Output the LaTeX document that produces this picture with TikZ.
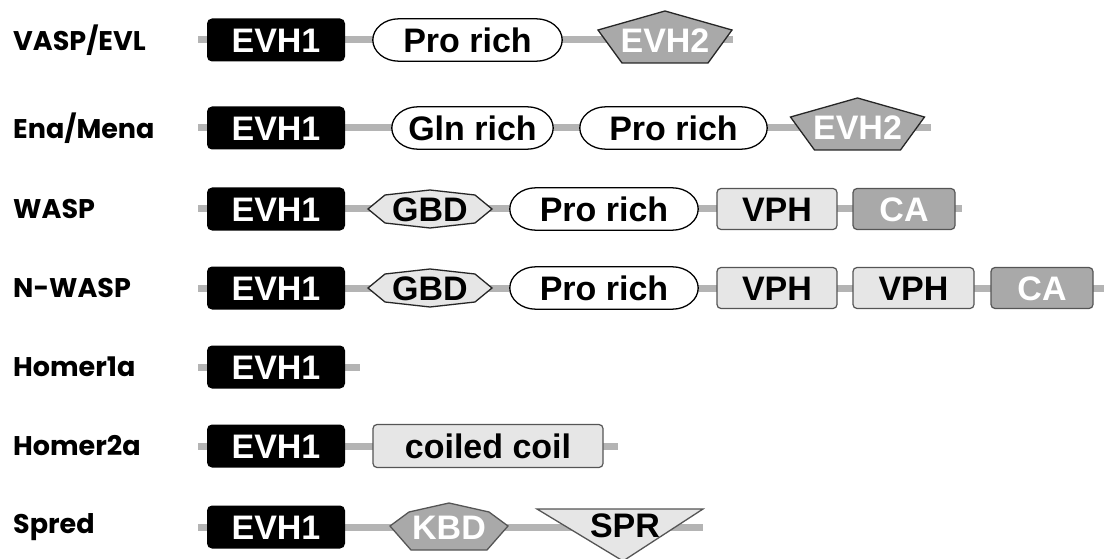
\documentclass[tikz,border=0pt]{standalone}
\usepackage{fontspec}
\setmainfont{Liberation Sans}
\newfontfamily\lblfont{Poppins}
\usetikzlibrary{backgrounds}

\definecolor{bbonegray}{HTML}{B4B4B4}
\definecolor{lightfill}{HTML}{E6E6E6}
\definecolor{midfill}{HTML}{A9A9A9}
\definecolor{edgegray}{HTML}{555555}

\pgfdeclarelayer{bbone}
\pgfdeclarelayer{shapes}
\pgfsetlayers{bbone,shapes,main}

% stadium with elliptical ends around a named node
\newcommand\ovaldomain[1]{%
  \draw[ovalline] ([xshift=26pt]#1.north west) -- ([xshift=-26pt]#1.north east)
    .. controls ([xshift=-11.6pt]#1.north east) and ([yshift=11.6pt]#1.east) .. (#1.east)
    .. controls ([yshift=-11.6pt]#1.east) and ([xshift=-11.6pt]#1.south east) .. ([xshift=-26pt]#1.south east)
    -- ([xshift=26pt]#1.south west)
    .. controls ([xshift=11.6pt]#1.south west) and ([yshift=-11.6pt]#1.west) .. (#1.west)
    .. controls ([yshift=11.6pt]#1.west) and ([xshift=11.6pt]#1.north west) .. ([xshift=26pt]#1.north west)
    -- cycle;}

% EVH2 pentagon
\newcommand\evhtwodomain[1]{%
  \draw[polyline, fill=midfill] ([yshift=29pt]#1.center)
    -- ([xshift=67pt,yshift=10pt]#1.center) -- ([xshift=43pt,yshift=-23pt]#1.center)
    -- ([xshift=-43pt,yshift=-23pt]#1.center) -- ([xshift=-67pt,yshift=10pt]#1.center) -- cycle;}

% GBD elongated octagon
\newcommand\gbddomain[1]{%
  \draw[polyline, fill=lightfill] ([xshift=-62pt]#1.center)
    -- ([xshift=-45pt,yshift=14pt]#1.center) -- ([yshift=19pt]#1.center)
    -- ([xshift=45pt,yshift=14pt]#1.center) -- ([xshift=62pt]#1.center)
    -- ([xshift=45pt,yshift=-14pt]#1.center) -- ([yshift=-19pt]#1.center)
    -- ([xshift=-45pt,yshift=-14pt]#1.center) -- cycle;}

% KBD heptagon
\newcommand\kbddomain[1]{%
  \draw[polyline, draw=edgegray, fill=midfill] ([xshift=-59pt,yshift=1pt]#1.center)
    -- ([xshift=-40pt,yshift=15pt]#1.center) -- ([yshift=24pt]#1.center)
    -- ([xshift=40pt,yshift=15pt]#1.center) -- ([xshift=59pt,yshift=1pt]#1.center)
    -- ([xshift=38pt,yshift=-23pt]#1.center) -- ([xshift=-38pt,yshift=-23pt]#1.center) -- cycle;}

% SPR inverted triangle
\newcommand\sprdomain[1]{%
  \draw[polyline, draw=edgegray, fill=lightfill] ([xshift=-88pt,yshift=16pt]#1.center)
    -- ([xshift=78pt,yshift=16pt]#1.center) -- ([xshift=-2pt,yshift=-36pt]#1.center) -- cycle;}

\tikzset{
  x=1pt, y=-1pt,
  backbone/.style={draw=bbonegray, line width=7pt},
  rowlabel/.style={anchor=west, inner sep=0pt, font=\lblfont\bfseries\fontsize{27}{27}\selectfont},
  domtext/.style={inner sep=0pt, font=\bfseries\fontsize{34}{34}\selectfont, text height=24.4pt, text depth=0pt},
  evhbox/.style={domtext, rectangle, rounded corners=5pt, fill=black, text=white,
    minimum width=138pt, minimum height=43pt},
  ovalbox/.style={domtext, minimum height=42pt},
  ovalline/.style={draw=black, line width=1.3pt, fill=white},
  polyline/.style={draw=black!85, line width=1.3pt, line join=miter},
  vphbox/.style={domtext, rectangle, rounded corners=4pt, draw=edgegray, line width=1.2pt,
    fill=lightfill, minimum width=120pt, minimum height=41pt},
  cabox/.style={vphbox, fill=midfill, text=white, minimum width=102pt},
  polytext/.style={domtext},
  lighttext/.style={polytext, text=white}
}

\begin{document}
\begin{tikzpicture}
\useasboundingbox (0,0) rectangle (1104,559);

% row labels
\node[rowlabel] (lvasp) at (13,40) {VASP/EVL};
\node[rowlabel] (lena) at (13,128) {Ena/Mena};
\node[rowlabel] (lwasp) at (13,209) {WASP};
\node[rowlabel] (lnwasp) at (13,288) {N-WASP};
\node[rowlabel] (lhomera) at (13,367) {Homer1a};
\node[rowlabel] (lhomerb) at (13,446) {Homer2a};
\node[rowlabel] (lspred) at (13,527) {Spred};

% VASP/EVL
\coordinate (vs) at (198,40); \coordinate (ve) at (733,40);
\node[evhbox] (v1) at (276,40) {EVH1};
\node[ovalbox, minimum width=189pt] (v2) at (467.5,40) {Pro rich};
\node[lighttext] (v3) at (665,40) {EVH2};

% Ena/Mena
\coordinate (es) at (198,128); \coordinate (ee) at (931,128);
\node[evhbox] (e1) at (276,128) {EVH1};
\node[ovalbox, minimum width=161pt] (e2) at (472.5,128) {Gln rich};
\node[ovalbox, minimum width=187pt] (e3) at (673.5,128) {Pro rich};
\node[lighttext] (e4) at (857.5,127) {EVH2};

% WASP
\coordinate (ws) at (198,209); \coordinate (we) at (962,209);
\node[evhbox] (w1) at (276,209) {EVH1};
\node[polytext] (w2) at (430,209) {GBD};
\node[ovalbox, minimum width=188pt] (w3) at (604,209) {Pro rich};
\node[vphbox] (w4) at (777,209) {VPH};
\node[cabox] (w5) at (904,209) {CA};

% N-WASP
\coordinate (ns) at (198,288); \coordinate (ne) at (1104,288);
\node[evhbox] (n1) at (276,288) {EVH1};
\node[polytext] (n2) at (430,288) {GBD};
\node[ovalbox, minimum width=188pt] (n3) at (604,288) {Pro rich};
\node[vphbox] (n4) at (777,288) {VPH};
\node[vphbox, minimum width=121pt] (n5) at (913.5,288) {VPH};
\node[cabox] (n6) at (1042,288) {CA};

% Homer1a
\coordinate (hs) at (198,367); \coordinate (he) at (360,367);
\node[evhbox] (h1) at (276,367) {EVH1};

% Homer2a
\coordinate (ks) at (198,446); \coordinate (ke) at (618,446);
\node[evhbox] (k1) at (276,446) {EVH1};
\node[vphbox, minimum width=230pt, minimum height=43pt] (k2) at (488,446) {coiled coil};

% Spred
\coordinate (ss) at (198,527); \coordinate (se) at (703,527);
\node[evhbox] (s1) at (276,527) {EVH1};
\node[lighttext] (s2) at (449,527) {KBD};
\node[polytext] (s3) at (625,525) {SPR};

% domain outlines behind the labels
\begin{pgfonlayer}{shapes}
  \ovaldomain{v2}
  \ovaldomain{e2}
  \ovaldomain{e3}
  \ovaldomain{w3}
  \ovaldomain{n3}
  \evhtwodomain{v3}
  \evhtwodomain{e4}
  \gbddomain{w2}
  \gbddomain{n2}
  \kbddomain{s2}
  \sprdomain{s3}
\end{pgfonlayer}

% protein backbones
\begin{pgfonlayer}{bbone}
  \draw[backbone] (vs) -- (ve);
  \draw[backbone] (es) -- (ee);
  \draw[backbone] (ws) -- (we);
  \draw[backbone] (ns) -- (ne);
  \draw[backbone] (hs) -- (he);
  \draw[backbone] (ks) -- (ke);
  \draw[backbone] (ss) -- (se);
\end{pgfonlayer}
\end{tikzpicture}
\end{document}
